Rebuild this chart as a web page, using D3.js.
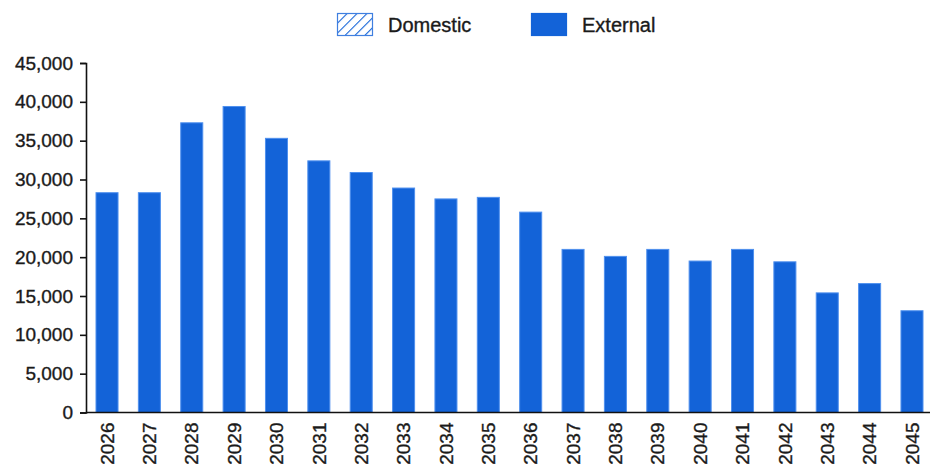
<!DOCTYPE html>
<html>
<head>
<meta charset="utf-8">
<script src="https://cdn.jsdelivr.net/npm/d3@7"></script>
<style>
  body { margin: 0; background: #fff; }
  svg { display: block; font-family: "Liberation Sans", Arial, sans-serif; }
  .lbl { fill: #1a1a1a; stroke: #1a1a1a; stroke-width: 0.35px; }
</style>
</head>
<body>
<svg id="chart" width="930" height="470"></svg>
<script>
// data
const years = ["2026","2027","2028","2029","2030","2031","2032","2033","2034","2035",
               "2036","2037","2038","2039","2040","2041","2042","2043","2044","2045"];
const external = [28300, 28300, 37300, 39400, 35300, 32400, 30900, 28900, 27500, 27700,
                  25800, 21000, 20100, 21000, 19500, 21000, 19400, 15400, 16600, 13100];
const domestic = [0, 0, 0, 0, 0, 0, 0, 0, 0, 0, 0, 0, 0, 0, 0, 0, 0, 0, 0, 0];
const yTicks = [0, 5000, 10000, 15000, 20000, 25000, 30000, 35000, 40000, 45000];
const legendItems = ["Domestic", "External"];

const blue = "#1363d8";
const svg = d3.select("#chart");

const x = d3.scaleBand()
    .domain(years)
    .range([86, 933])
    .paddingInner(0.48)
    .paddingOuter(0.236);

const y = d3.scaleLinear()
    .domain([0, 45000])
    .range([412.5, 63]);

// hatch for domestic
const defs = svg.append("defs");
const pat = defs.append("pattern")
    .attr("id", "hatch")
    .attr("patternUnits", "userSpaceOnUse")
    .attr("width", 7).attr("height", 7)
    .attr("patternTransform", "rotate(45)");
pat.append("rect").attr("width", 7).attr("height", 7).attr("fill", "#fff");
pat.append("line")
    .attr("x1", 0).attr("y1", 0).attr("x2", 0).attr("y2", 7)
    .attr("stroke", blue).attr("stroke-width", 2.2);

// bars (external on bottom, domestic stacked on top)
svg.append("g").selectAll("rect.ext")
    .data(years)
    .join("rect")
    .attr("class", "ext")
    .attr("x", d => x(d))
    .attr("width", x.bandwidth())
    .attr("y", (d, i) => y(external[i]))
    .attr("height", (d, i) => y(0) - y(external[i]))
    .attr("fill", blue)
    .attr("stroke", "#4f90ee")
    .attr("stroke-width", 1);

svg.append("g").selectAll("rect.dom")
    .data(years.filter((d, i) => domestic[i] > 0))
    .join("rect")
    .attr("class", "dom")
    .attr("x", d => x(d))
    .attr("width", x.bandwidth())
    .attr("y", d => { const i = years.indexOf(d); return y(external[i] + domestic[i]); })
    .attr("height", d => { const i = years.indexOf(d); return y(external[i]) - y(external[i] + domestic[i]); })
    .attr("fill", "url(#hatch)")
    .attr("stroke", blue);

// y axis
const yAxis = svg.append("g")
    .attr("transform", "translate(86,0)")
    .call(d3.axisLeft(y).tickValues(yTicks).tickSize(6).tickPadding(7)
        .tickFormat(d3.format(",")));
yAxis.select(".domain").attr("stroke", "#111").attr("stroke-width", 1.6);
yAxis.selectAll(".tick line").attr("stroke", "#111").attr("stroke-width", 1.6);
yAxis.selectAll("text").attr("class", "lbl").attr("font-size", 19)
    .attr("font-family", "Liberation Sans, Arial, sans-serif");

// x axis
const xAxis = svg.append("g")
    .attr("transform", "translate(0," + y(0) + ")")
    .call(d3.axisBottom(x).tickSize(0).tickPadding(10).tickSizeOuter(0));
xAxis.select(".domain").attr("stroke", "#111").attr("stroke-width", 1.6)
    .attr("d", "M86,0H930");
xAxis.selectAll("text")
    .attr("class", "lbl")
    .attr("font-size", 19)
    .attr("font-family", "Liberation Sans, Arial, sans-serif")
    .attr("transform", "rotate(-90)")
    .attr("text-anchor", "end")
    .attr("x", -10).attr("y", 0).attr("dy", "0.35em");

// legend
const legend = svg.append("g").attr("transform", "translate(337,13)");
const legX = [0, 194];
legendItems.forEach((name, i) => {
    const g = legend.append("g").attr("transform", "translate(" + legX[i] + ",0)");
    g.append("rect")
        .attr("x", 0.5).attr("y", 0.5)
        .attr("width", 35).attr("height", 22)
        .attr("fill", i === 0 ? "url(#hatch)" : blue)
        .attr("stroke", i === 0 ? "#3f7fe0" : blue)
        .attr("stroke-width", 1.2);
    g.append("text")
        .attr("class", "lbl")
        .attr("x", 51).attr("y", 12)
        .attr("dy", "0.36em")
        .attr("font-size", 20)
        .text(name);
});
</script>
</body>
</html>
